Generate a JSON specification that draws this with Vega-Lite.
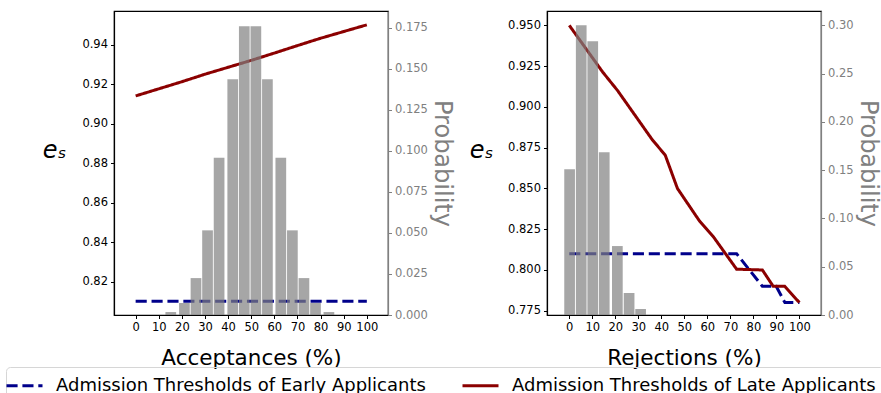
{
  "$schema": "https://vega.github.io/schema/vega-lite/v6.json",
  "background": "white",
  "padding": {"left": 5, "top": 10, "right": 0, "bottom": 0},
  "bounds": "flush",
  "spacing": 159,
  "config": {
    "font": "DejaVu Sans",
    "view": {"stroke": "black", "strokeWidth": 1.2},
    "axis": {
      "labelFont": "DejaVu Sans", "titleFont": "DejaVu Sans",
      "labelFontSize": 11.5, "tickSize": 3.5, "tickWidth": 1,
      "tickColor": "black", "domainColor": "black", "domainWidth": 1.2,
      "labelColor": "black", "titleColor": "black", "titleFontWeight": "normal",
      "grid": false, "labelPadding": 3
    }
  },
  "datasets": {
    "linesA": [
      {"x": 0, "e": 0.81, "series": "Admission Thresholds of Early Applicants"},
      {"x": 50, "e": 0.81, "series": "Admission Thresholds of Early Applicants"},
      {"x": 100, "e": 0.81, "series": "Admission Thresholds of Early Applicants"},
      {"x": 0, "e": 0.914, "series": "Admission Thresholds of Late Applicants"},
      {"x": 10, "e": 0.9176, "series": "Admission Thresholds of Late Applicants"},
      {"x": 20, "e": 0.9212, "series": "Admission Thresholds of Late Applicants"},
      {"x": 30, "e": 0.925, "series": "Admission Thresholds of Late Applicants"},
      {"x": 40, "e": 0.9285, "series": "Admission Thresholds of Late Applicants"},
      {"x": 50, "e": 0.932, "series": "Admission Thresholds of Late Applicants"},
      {"x": 60, "e": 0.9357, "series": "Admission Thresholds of Late Applicants"},
      {"x": 70, "e": 0.9395, "series": "Admission Thresholds of Late Applicants"},
      {"x": 80, "e": 0.9432, "series": "Admission Thresholds of Late Applicants"},
      {"x": 90, "e": 0.9466, "series": "Admission Thresholds of Late Applicants"},
      {"x": 100, "e": 0.95, "series": "Admission Thresholds of Late Applicants"}
    ],
    "barsA": [
      {"x": 15.2, "p": 0.0018}, {"x": 21.1, "p": 0.0073}, {"x": 26.1, "p": 0.0225},
      {"x": 31.1, "p": 0.0516}, {"x": 36.1, "p": 0.0959}, {"x": 42.0, "p": 0.1437},
      {"x": 47.0, "p": 0.176}, {"x": 52.0, "p": 0.176}, {"x": 57.0, "p": 0.1437},
      {"x": 62.8, "p": 0.0959}, {"x": 67.8, "p": 0.0516}, {"x": 72.8, "p": 0.0225},
      {"x": 77.8, "p": 0.0073}, {"x": 83.6, "p": 0.0018}
    ],
    "linesB": [
      {"x": 0, "e": 0.81, "series": "Admission Thresholds of Early Applicants"},
      {"x": 72.7, "e": 0.81, "series": "Admission Thresholds of Early Applicants"},
      {"x": 83.9, "e": 0.79, "series": "Admission Thresholds of Early Applicants"},
      {"x": 89.9, "e": 0.79, "series": "Admission Thresholds of Early Applicants"},
      {"x": 93.7, "e": 0.78, "series": "Admission Thresholds of Early Applicants"},
      {"x": 100, "e": 0.78, "series": "Admission Thresholds of Early Applicants"},
      {"x": 0, "e": 0.95, "series": "Admission Thresholds of Late Applicants"},
      {"x": 14.5, "e": 0.9214, "series": "Admission Thresholds of Late Applicants"},
      {"x": 21.0, "e": 0.91, "series": "Admission Thresholds of Late Applicants"},
      {"x": 36.0, "e": 0.88, "series": "Admission Thresholds of Late Applicants"},
      {"x": 41.7, "e": 0.8704, "series": "Admission Thresholds of Late Applicants"},
      {"x": 47.0, "e": 0.85, "series": "Admission Thresholds of Late Applicants"},
      {"x": 56.6, "e": 0.83, "series": "Admission Thresholds of Late Applicants"},
      {"x": 62.8, "e": 0.82, "series": "Admission Thresholds of Late Applicants"},
      {"x": 72.7, "e": 0.8005, "series": "Admission Thresholds of Late Applicants"},
      {"x": 83.9, "e": 0.8, "series": "Admission Thresholds of Late Applicants"},
      {"x": 88.6, "e": 0.79, "series": "Admission Thresholds of Late Applicants"},
      {"x": 93.6, "e": 0.79, "series": "Admission Thresholds of Late Applicants"},
      {"x": 100, "e": 0.78, "series": "Admission Thresholds of Late Applicants"}
    ],
    "barsB": [
      {"x": 0.15, "p": 0.151}, {"x": 5.2, "p": 0.3}, {"x": 10.2, "p": 0.2834},
      {"x": 15.2, "p": 0.1686}, {"x": 20.9, "p": 0.0714}, {"x": 26.0, "p": 0.0228},
      {"x": 31.0, "p": 0.0062}
    ]
  },
  "hconcat": [
    {
      "width": 274, "height": 304,
      "layer": [
        {
          "data": {"name": "linesA"},
          "mark": {"type": "line", "strokeWidth": 3},
          "encoding": {
            "x": {"field": "x", "type": "quantitative",
                  "scale": {"domain": [-7.2, 107], "nice": false, "zero": false},
                  "axis": {"values": [0,10,20,30,40,50,60,70,80,90,100], "title": "Acceptances (%)", "titleFontSize": 21.5, "titlePadding": 14}},
            "y": {"field": "e", "type": "quantitative",
                  "scale": {"domain": [0.8031, 0.957], "nice": false, "zero": false},
                  "axis": {"orient": "left", "values": [0.82,0.84,0.86,0.88,0.9,0.92,0.94], "format": ".2f",
                           "title": "eₛ", "titleAngle": 0, "titleFontSize": 24, "titleFontStyle": "italic",
                           "titleX": -60, "titleY": 146, "titleAlign": "center", "titleBaseline": "alphabetic"}},
            "color": {"field": "series", "type": "nominal",
                      "scale": {"domain": ["Admission Thresholds of Early Applicants", "Admission Thresholds of Late Applicants"], "range": ["#00008b", "#8b0000"]},
                      "legend": {"title": null, "orient": "none", "legendX": -108, "legendY": 356, "direction": "horizontal",
                                 "labelFontSize": 18, "labelLimit": 0, "symbolType": "M-2,0H2", "symbolSize": 324, "symbolStrokeWidth": 3,
                                 "columnPadding": 30, "labelOffset": 21, "strokeColor": "#d6d6d6", "padding": 8, "cornerRadius": 4}},
            "strokeDash": {"field": "series", "type": "nominal",
                      "scale": {"domain": ["Admission Thresholds of Early Applicants", "Admission Thresholds of Late Applicants"], "range": [[11.1, 4.8], [1, 0]]},
                      "legend": {"title": null, "orient": "none", "legendX": -108, "legendY": 356, "direction": "horizontal",
                                 "labelFontSize": 18, "labelLimit": 0, "symbolType": "M-2,0H2", "symbolSize": 324, "symbolStrokeWidth": 3,
                                 "columnPadding": 30, "labelOffset": 21, "strokeColor": "#d6d6d6", "padding": 8, "cornerRadius": 4}}
          }
        },
        {
          "data": {"name": "barsA"},
          "mark": {"type": "bar", "color": "#808080", "opacity": 0.7, "size": 10.7},
          "encoding": {
            "x": {"field": "x", "type": "quantitative",
                  "scale": {"domain": [-7.2, 107], "nice": false, "zero": false},
                  "axis": {"values": [0,10,20,30,40,50,60,70,80,90,100], "title": "Acceptances (%)", "titleFontSize": 21.5, "titlePadding": 14}},
            "y": {"field": "p", "type": "quantitative",
                  "scale": {"domain": [0, 0.1853], "nice": false},
                  "axis": {"orient": "right", "values": [0,0.025,0.05,0.075,0.1,0.125,0.15,0.175], "format": ".3f",
                           "title": "Probability", "titleFontSize": 24, "titleColor": "#808080", "labelColor": "#808080",
                           "tickColor": "#808080", "domainColor": "#808080", "titlePadding": 2}}
          }
        }
      ],
      "resolve": {"scale": {"y": "independent"}}
    },
    {
      "width": 274, "height": 304,
      "layer": [
        {
          "data": {"name": "linesB"},
          "mark": {"type": "line", "strokeWidth": 3},
          "encoding": {
            "x": {"field": "x", "type": "quantitative",
                  "scale": {"domain": [-7.5, 107.2], "nice": false, "zero": false},
                  "axis": {"values": [0,10,20,30,40,50,60,70,80,90,100], "title": "Rejections (%)", "titleFontSize": 21.5, "titlePadding": 14}},
            "y": {"field": "e", "type": "quantitative",
                  "scale": {"domain": [0.7724, 0.9588], "nice": false, "zero": false},
                  "axis": {"orient": "left", "values": [0.775,0.8,0.825,0.85,0.875,0.9,0.925,0.95], "format": ".3f",
                           "title": "eₛ", "titleAngle": 0, "titleFontSize": 24, "titleFontStyle": "italic",
                           "titleX": -66, "titleY": 146, "titleAlign": "center", "titleBaseline": "alphabetic"}},
            "color": {"field": "series", "type": "nominal",
                      "scale": {"domain": ["Admission Thresholds of Early Applicants", "Admission Thresholds of Late Applicants"], "range": ["#00008b", "#8b0000"]},
                      "legend": {"title": null, "orient": "none", "legendX": -108, "legendY": 356, "direction": "horizontal",
                                 "labelFontSize": 18, "labelLimit": 0, "symbolType": "M-2,0H2", "symbolSize": 324, "symbolStrokeWidth": 3,
                                 "columnPadding": 30, "labelOffset": 21, "strokeColor": "#d6d6d6", "padding": 8, "cornerRadius": 4}},
            "strokeDash": {"field": "series", "type": "nominal",
                      "scale": {"domain": ["Admission Thresholds of Early Applicants", "Admission Thresholds of Late Applicants"], "range": [[11.1, 4.8], [1, 0]]},
                      "legend": {"title": null, "orient": "none", "legendX": -108, "legendY": 356, "direction": "horizontal",
                                 "labelFontSize": 18, "labelLimit": 0, "symbolType": "M-2,0H2", "symbolSize": 324, "symbolStrokeWidth": 3,
                                 "columnPadding": 30, "labelOffset": 21, "strokeColor": "#d6d6d6", "padding": 8, "cornerRadius": 4}}
          }
        },
        {
          "data": {"name": "barsB"},
          "mark": {"type": "bar", "color": "#808080", "opacity": 0.7, "size": 10.7},
          "encoding": {
            "x": {"field": "x", "type": "quantitative",
                  "scale": {"domain": [-7.5, 107.2], "nice": false, "zero": false},
                  "axis": {"values": [0,10,20,30,40,50,60,70,80,90,100], "title": "Rejections (%)", "titleFontSize": 21.5, "titlePadding": 14}},
            "y": {"field": "p", "type": "quantitative",
                  "scale": {"domain": [0, 0.3148], "nice": false},
                  "axis": {"orient": "right", "values": [0,0.05,0.1,0.15,0.2,0.25,0.3], "format": ".2f",
                           "title": "Probability", "titleFontSize": 24, "titleColor": "#808080", "labelColor": "#808080",
                           "tickColor": "#808080", "domainColor": "#808080", "titlePadding": 2}}
          }
        }
      ],
      "resolve": {"scale": {"y": "independent"}}
    }
  ]
}
